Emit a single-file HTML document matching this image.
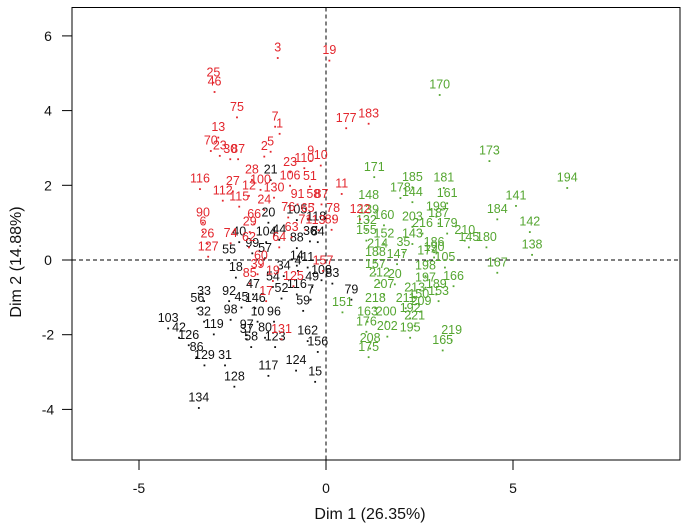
<!DOCTYPE html>
<html><head><meta charset="utf-8"><style>
html,body{margin:0;padding:0;background:#fff;}
svg{display:block;font-family:"Liberation Sans",Arial,sans-serif;}
</style></head><body>
<svg id="chart" width="683" height="530">
<rect x="72" y="7.5" width="608" height="452.5" fill="none" stroke="#000" stroke-width="1"/>
<g id="axes"></g>
<g id="marks"></g>
<text x="370" y="519" font-size="16" text-anchor="middle" fill="#111">Dim 1 (26.35%)</text>
<text x="0" y="0" font-size="16" text-anchor="middle" fill="#111" transform="translate(21,262) rotate(-90)">Dim 2 (14.88%)</text>
</svg>
<script>
const xTicks = [-5, 0, 5];
const yTicks = [-4, -2, 0, 2, 4, 6];
const redLabels = ["3","19","25","46","75","13","7","1","177","183","70","23","30","87","2","5","9","10","23","110","28","116","27","106","51","11","112","12","100","130","115","24","91","58","87","90","6","26","127","78","122","65","76","66","29","71","13","89","63","74","62","64","157","60","39","85","19","125","17","131"];
const redX = [-1.29,0.09,-3.01,-2.98,-2.38,-2.88,-1.36,-1.24,0.54,1.14,-3.08,-2.84,-2.56,-2.35,-1.65,-1.48,-0.41,-0.14,-0.96,-0.58,-1.98,-3.37,-2.49,-0.96,-0.43,0.42,-2.76,-2.06,-1.75,-1.39,-2.32,-1.65,-0.76,-0.34,-0.12,-3.29,-3.29,-3.17,-3.15,0.19,0.91,-0.49,-1.01,-1.92,-2.04,-0.55,-0.2,0.15,-0.92,-2.55,-2.06,-1.25,-0.08,-1.74,-1.83,-2.04,-1.42,-0.87,-1.6,-1.19];
const redY = [5.70,5.63,5.04,4.79,4.11,3.57,3.86,3.67,3.82,3.94,3.21,3.08,2.99,2.99,3.06,3.19,2.94,2.82,2.64,2.75,2.44,2.19,2.13,2.28,2.26,2.06,1.88,2.01,2.17,1.96,1.72,1.63,1.78,1.78,1.78,1.29,1.04,0.72,0.38,1.40,1.38,1.40,1.43,1.25,1.04,1.10,1.09,1.10,0.90,0.74,0.63,0.63,0.0,0.14,-0.09,-0.34,-0.27,-0.41,-0.81,-1.83];
const blackLabels = ["21","20","105","118","40","104","44","36","84","88","55","99","57","14","11","18","34","4","108","83","54","49","47","116","52","7","79","33","92","45","146","56","59","32","98","10","96","103","119","97","37","80","162","42","126","58","123","156","86","129","31","124","117","15","128","134"];
const blackX = [-1.48,-1.54,-0.78,-0.26,-2.32,-1.6,-1.25,-0.43,-0.22,-0.78,-2.59,-1.97,-1.63,-0.78,-0.49,-2.41,-1.13,-0.75,-0.12,0.17,-1.42,-0.37,-1.95,-0.78,-1.19,-0.41,0.68,-3.26,-2.59,-2.26,-1.89,-3.44,-0.61,-3.26,-2.55,-1.83,-1.39,-4.22,-3.0,-2.12,-2.12,-1.63,-0.49,-3.93,-3.67,-2.0,-1.36,-0.22,-3.46,-3.25,-2.7,-0.8,-1.54,-0.29,-2.45,-3.4];
const blackY = [2.43,1.29,1.36,1.18,0.77,0.77,0.83,0.79,0.77,0.61,0.29,0.47,0.34,0.14,0.09,-0.18,-0.14,0.0,-0.25,-0.34,-0.43,-0.43,-0.63,-0.63,-0.74,-0.77,-0.77,-0.81,-0.81,-0.98,-1.0,-1.01,-1.07,-1.36,-1.31,-1.36,-1.36,-1.54,-1.7,-1.72,-1.83,-1.79,-1.88,-1.79,-1.99,-2.04,-2.04,-2.17,-2.31,-2.53,-2.53,-2.67,-2.81,-2.97,-3.1,-3.67];
const greenLabels = ["170","173","194","171","185","181","178","144","161","141","148","184","199","139","160","203","187","216","179","142","132","155","152","143","210","145","180","35","214","138","186","188","147","105","167","157","166","212","20","198","207","213","150","218","209","151","163","200","221","176","202","195","219","165","208","175","190","174","197","189","153","192","211"];
const greenX = [3.04,4.37,6.45,1.29,2.31,3.15,1.99,2.31,3.24,5.08,1.14,4.58,2.95,1.14,1.55,2.31,3.01,2.58,3.24,5.45,1.08,1.08,1.55,2.31,3.71,3.82,4.29,2.07,1.38,5.51,2.89,1.32,1.9,3.18,4.58,1.32,3.41,1.43,1.84,2.66,1.55,2.37,2.48,1.32,2.54,0.44,1.11,1.61,2.37,1.08,1.64,2.25,3.36,3.12,1.18,1.14,2.89,2.72,2.66,2.95,3.01,2.25,2.13];
const greenY = [4.71,2.94,2.22,2.51,2.24,2.22,1.95,1.84,1.81,1.74,1.76,1.38,1.45,1.36,1.22,1.18,1.27,1.0,1.0,1.04,1.09,0.81,0.72,0.72,0.81,0.63,0.63,0.5,0.45,0.43,0.5,0.23,0.18,0.09,-0.05,-0.09,-0.41,-0.32,-0.36,-0.14,-0.63,-0.72,-0.9,-1.0,-1.09,-1.11,-1.36,-1.36,-1.47,-1.63,-1.76,-1.79,-1.86,-2.13,-2.08,-2.31,0.36,0.27,-0.45,-0.63,-0.81,-1.27,-1.0];

const NS = "http://www.w3.org/2000/svg";
function sx(v){ return 326 + v * 37.4; }
function sy(v){ return 260 - v * 37.35; }
const axes = document.getElementById('axes');
const marks = document.getElementById('marks');
function mk(tag, attrs, parent){
  const e = document.createElementNS(NS, tag);
  for (const k in attrs) e.setAttribute(k, attrs[k]);
  parent.appendChild(e); return e;
}
let l = mk('line', {x1:72, x2:680, y1:sy(0), y2:sy(0), stroke:'#000', 'stroke-dasharray':'4,3', 'stroke-width':1}, axes);


l = mk('line', {x1:sx(0), x2:sx(0), y1:7.5, y2:460, stroke:'#000', 'stroke-dasharray':'4,3', 'stroke-width':1}, axes);


xTicks.forEach(function(t){
  const tk = mk('line', {x1:sx(t), x2:sx(t), y1:460, y2:470, stroke:'#000'}, axes);
  
  
  const tx = mk('text', {x:sx(t), y:493, 'font-size':14, 'text-anchor':'middle', fill:'#111'}, axes);
  tx.textContent = String(t);
  
  
});
yTicks.forEach(function(t){
  const tk = mk('line', {x1:62, x2:72, y1:sy(t), y2:sy(t), stroke:'#000'}, axes);
  
  
  const tx = mk('text', {x:48, y:sy(t)+5, 'font-size':14, 'text-anchor':'middle', fill:'#111'}, axes);
  tx.textContent = String(t);
  
  
});
function drawGroup(labels, xs, ys, color){
  for (let i = 0; i < labels.length; i++){
    const px = sx(xs[i]), py = sy(ys[i]);
    const d = mk('rect', {x:px-0.9, y:py+10, width:1.8, height:1.8, fill:color}, marks);
    
    
    const t = mk('text', {x:px, y:py+4.5, 'font-size':12.5, 'text-anchor':'middle', fill:color}, marks);
    t.textContent = labels[i];
    
    
  }
}
drawGroup(greenLabels, greenX, greenY, '#55a631');
drawGroup(blackLabels, blackX, blackY, '#111111');
drawGroup(redLabels, redX, redY, '#e3262d');
</script>
</body></html>
